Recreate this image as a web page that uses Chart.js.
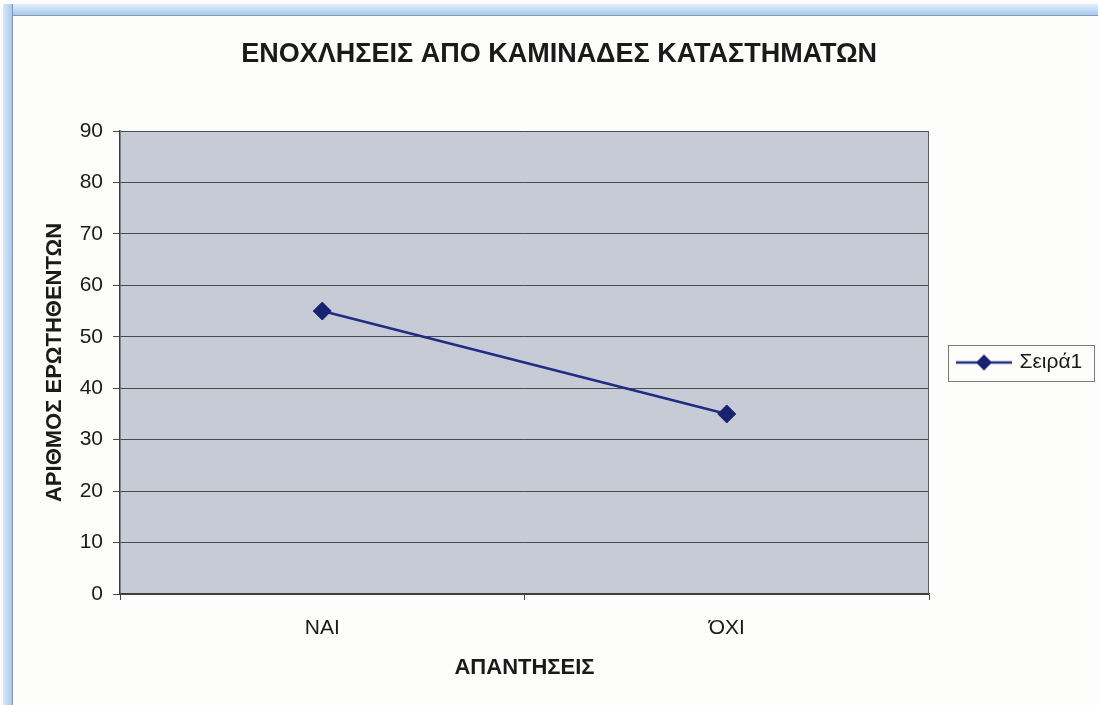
<!DOCTYPE html>
<html>
<head>
<meta charset="utf-8">
<script src="https://cdn.jsdelivr.net/npm/chart.js@4.4.1/dist/chart.umd.min.js"></script>
<style>
  html, body { margin: 0; padding: 0; background: #fdfdfc; overflow: hidden; }
  #wrap { position: relative; width: 1098px; height: 705px; }
  .fr-top { position: absolute; left: 3px; top: 4px; right: 0; height: 11px;
    background: linear-gradient(#e0eefc, #a9cbef); border-bottom: 1px solid #8696ac; }
  .fr-left { position: absolute; left: 3px; top: 4px; bottom: 0; width: 9px;
    background: linear-gradient(90deg, #d6e7f9, #a9cbef); border-right: 1px solid #8696ac; }
  canvas { position: absolute; left: 0; top: 0; }
</style>
</head>
<body>
<div id="wrap">
  <div class="fr-top"></div>
  <div class="fr-left"></div>
  <canvas id="c" width="1098" height="705"></canvas>
</div>
<script>
const chartTitle = 'ΕΝΟΧΛΗΣΕΙΣ ΑΠΟ ΚΑΜΙΝΑΔΕΣ ΚΑΤΑΣΤΗΜΑΤΩΝ';
const xTitle = 'ΑΠΑΝΤΗΣΕΙΣ';
const yTitle = 'ΑΡΙΘΜΟΣ ΕΡΩΤΗΘΕΝΤΩΝ';
const categories = ['ΝΑΙ', 'ΌΧΙ'];
const seriesName = 'Σειρά1';
const seriesValues = [55, 35];
const yMin = 0, yMax = 90, yStep = 10;

const FONT = '"Liberation Sans", Arial, sans-serif';
const NAVY = '#1f2d84';
const NAVY_FILL = '#17236e';
const TEXT = '#1a1a1a';
const LEG_FONT = 21, LEG_PAD = 30, LEG_BOX = 50;
const PAD_LEFT = 26;

// legend symbol: line with diamond
const sym = document.createElement('canvas');
sym.width = 56; sym.height = 20;
(function () {
  const g = sym.getContext('2d');
  g.strokeStyle = NAVY; g.lineWidth = 2.5;
  g.beginPath(); g.moveTo(0, 10); g.lineTo(56, 10); g.stroke();
  g.fillStyle = NAVY_FILL;
  g.beginPath(); g.moveTo(28, 2); g.lineTo(36, 10); g.lineTo(28, 18); g.lineTo(20, 10); g.closePath(); g.fill();
})();

const mctx = document.createElement('canvas').getContext('2d');
mctx.font = LEG_FONT + 'px ' + FONT;
const legTextW = mctx.measureText(seriesName).width;
const legendWidth = LEG_PAD + LEG_BOX + LEG_FONT / 2 + legTextW + 10;
const padRight = Math.max(0, 1098 - 929 - legendWidth);

const plotBg = {
  id: 'plotBg',
  beforeDraw(chart) {
    const {ctx, chartArea: a} = chart;
    ctx.save();
    ctx.fillStyle = '#c7cbd5';
    ctx.fillRect(a.left, a.top, a.right - a.left, a.bottom - a.top);
    ctx.restore();
  },
  beforeDatasetsDraw(chart) {
    const {ctx, chartArea: a} = chart;
    ctx.save();
    ctx.strokeStyle = '#5a5a5a'; ctx.lineWidth = 1;
    ctx.beginPath(); ctx.moveTo(a.right - 0.5, a.top); ctx.lineTo(a.right - 0.5, a.bottom); ctx.stroke();
    ctx.restore();
  },
  afterDraw(chart) {
    const hb = chart.legend && chart.legend.legendHitBoxes && chart.legend.legendHitBoxes[0];
    if (!hb) return;
    const {ctx} = chart;
    const cy = hb.top + hb.height / 2;
    ctx.save();
    ctx.strokeStyle = '#7a7a7a'; ctx.lineWidth = 1;
    ctx.strokeRect(Math.round(hb.left - 11) + 0.5, Math.round(cy - 18) + 0.5, Math.round(hb.width + 23), 36);
    ctx.restore();
  }
};

new Chart(document.getElementById('c'), {
  type: 'line',
  data: {
    labels: categories,
    datasets: [{
      label: seriesName,
      data: seriesValues,
      borderColor: NAVY,
      borderWidth: 2.5,
      backgroundColor: NAVY_FILL,
      pointStyle: 'rectRot',
      pointRadius: 9,
      pointBorderWidth: 1,
      pointBorderColor: NAVY_FILL,
      pointBackgroundColor: NAVY_FILL,
      tension: 0,
      fill: false
    }]
  },
  options: {
    responsive: false,
    animation: false,
    events: [],
    layout: { padding: { left: PAD_LEFT, top: 0, bottom: 0, right: padRight } },
    plugins: {
      tooltip: { enabled: false },
      title: {
        display: true,
        text: chartTitle,
        color: TEXT,
        font: { family: FONT, size: 27, weight: 'bold' },
        padding: { top: 38.5, bottom: 60.1 }
      },
      legend: {
        display: true,
        position: 'right',
        align: 'center',
        fullSize: false,
        labels: {
          usePointStyle: true,
          pointStyle: sym,
          pointStyleWidth: LEG_BOX,
          padding: LEG_PAD,
          color: TEXT,
          font: { family: FONT, size: LEG_FONT }
        }
      }
    },
    scales: {
      x: {
        type: 'category',
        offset: true,
        grid: { display: true, offset: true, drawOnChartArea: false, drawTicks: true, tickLength: 6, color: '#454545', lineWidth: 1 },
        border: { display: true, color: '#3c3c3c', width: 1.5 },
        ticks: { color: TEXT, font: { family: FONT, size: 21 }, padding: 15.4, maxRotation: 0 },
        title: { display: true, text: xTitle, color: TEXT, font: { family: FONT, size: 22, weight: 'bold' }, padding: { top: 0, bottom: 23.8 } },
        afterFit(s) { s.height = 111; }
      },
      y: {
        min: yMin, max: yMax,
        ticks: { stepSize: yStep, color: TEXT, font: { family: FONT, size: 21 }, padding: 10 },
        grid: { color: '#4a4a4a', lineWidth: 1, drawTicks: true, tickLength: 7 },
        border: { display: true, color: '#3c3c3c', width: 1.5 },
        title: { display: true, text: yTitle, color: TEXT, font: { family: FONT, size: 22, weight: 'bold' }, padding: { top: 42 - PAD_LEFT, bottom: 0 } },
        afterFit(s) { s.width = 120 - PAD_LEFT; }
      }
    }
  },
  plugins: [plotBg]
});
</script>
</body>
</html>
